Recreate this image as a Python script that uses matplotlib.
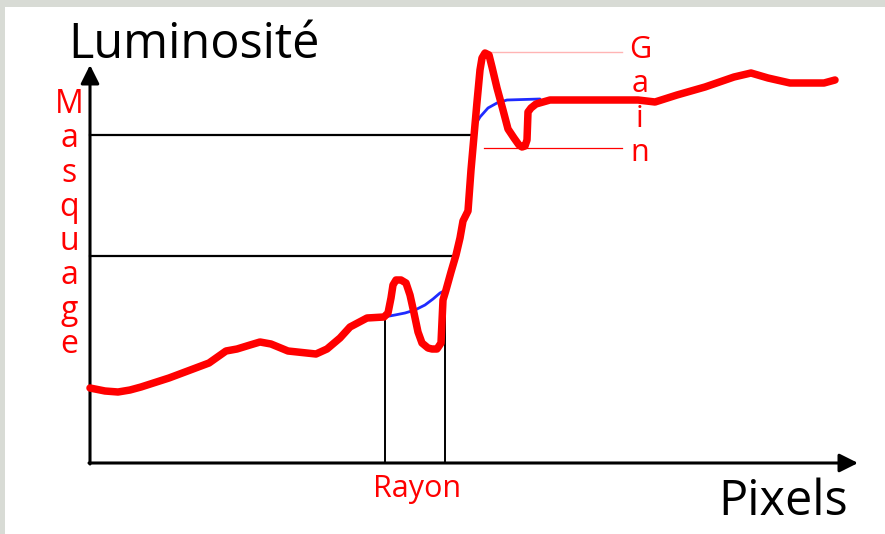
import numpy as np
import matplotlib
matplotlib.use("Agg")
import matplotlib.pyplot as plt
from matplotlib.patches import Rectangle

# Profile drawn in "pixel" units measured from the axes origin
RED_X = [0, 15, 28, 40, 51, 79, 119, 136, 147, 160, 170, 181, 198, 226, 237, 250, 260, 277,
         294, 298, 301, 303, 306, 311, 316, 320, 324, 328, 332, 338, 342, 347, 351, 353, 356,
         361, 366, 370, 373, 378, 381, 384, 387, 390, 392, 395, 399, 402, 407, 413, 418, 424,
         429, 432, 435, 437, 438, 441, 446, 460, 548, 565, 587, 615, 644, 661, 678, 700, 734, 745]
RED_Y = [75, 72, 71, 73, 76, 85, 100, 112, 114, 118, 121, 119, 112, 109, 114, 125, 136, 145,
         146, 150, 165, 178, 183, 183, 180, 168, 150, 131, 120, 115, 114, 114, 120, 163, 173,
         191, 208, 225, 242, 252, 293, 327, 361, 393, 405, 410, 408, 396, 375, 353, 334, 325,
         318, 316, 317, 323, 351, 355, 359, 363, 363, 361, 368, 376, 386, 390, 385, 380, 380, 383]

BLUE_LOW_X = [294, 305, 315, 325, 335, 343, 350, 354]
BLUE_LOW_Y = [146, 148, 150, 153, 158, 164, 170, 172]
BLUE_HIGH_X = [384, 390, 398, 407, 417, 450]
BLUE_HIGH_Y = [336, 346, 355, 360, 363, 364]

MASK_LEVELS = [328, 207]          # horizontal black guides
MASK_ENDS = [382, 362]
RAY_X = [295, 355]                # vertical "Rayon" guides
RAY_TOP = [146, 171]
GAIN_LEVELS = [411, 315]          # thin red guides

MASQUAGE = list("Masquage")
GAIN = list("Gain")

RED = "#ff0000"
FONT = ["Open Sans", "DejaVu Sans"]

fig = plt.figure(figsize=(8.85, 5.34), dpi=100, facecolor="#d8dbd5")
ax = fig.add_axes([0, 0, 1, 1])
ax.set_xlim(-90, 795)
ax.set_ylim(-71, 463)
ax.axis("off")

# white page inside the grey frame
ax.add_patch(Rectangle((-85, -71), 880, 527, facecolor="white", edgecolor="none", zorder=0))

# axes with arrows
ax.annotate("", xy=(0, 398), xytext=(0, -1),
            arrowprops=dict(arrowstyle="-|>", lw=2.2, color="black", mutation_scale=28,
                            shrinkA=0, shrinkB=0), zorder=3)
ax.annotate("", xy=(768, 0), xytext=(-1, 0),
            arrowprops=dict(arrowstyle="-|>", lw=2.2, color="black", mutation_scale=28,
                            shrinkA=0, shrinkB=0), zorder=3)

for lvl, end in zip(MASK_LEVELS, MASK_ENDS):
    ax.plot([0, end], [lvl, lvl], color="black", lw=1.6, zorder=2)
for x, top in zip(RAY_X, RAY_TOP):
    ax.plot([x, x], [0, top], color="black", lw=1.4, zorder=2)

ax.plot([393, 532], [GAIN_LEVELS[0]] * 2, color="#ffb4b4", lw=1.0, zorder=2)
ax.plot([394, 532], [GAIN_LEVELS[1]] * 2, color=RED, lw=0.9, zorder=2)

ax.plot(BLUE_LOW_X, BLUE_LOW_Y, color="#1f2bff", lw=2.0, zorder=4, solid_capstyle="round")
ax.plot(BLUE_HIGH_X, BLUE_HIGH_Y, color="#1f2bff", lw=2.0, zorder=4, solid_capstyle="round")
ax.plot(RED_X, RED_Y, color=RED, lw=5.4, zorder=5,
        solid_capstyle="round", solid_joinstyle="round")

# labels
ax.text(-22, 405, "Luminosité", fontsize=35, family=FONT, color="black",
        ha="left", va="baseline")
ax.text(628, -52, "Pixels", fontsize=35, family=FONT, color="black",
        ha="left", va="baseline")
ax.text(327, -34, "Rayon", fontsize=22, family=FONT, color=RED,
        ha="center", va="baseline")
for i, ch in enumerate(MASQUAGE):
    ax.text(-21, 350 - 34.3 * i, ch, fontsize=23, family=FONT, color=RED,
            ha="center", va="baseline")
for i, ch in enumerate(GAIN):
    ax.text(550, 405 - 34.3 * i, ch, fontsize=22, family=FONT, color=RED,
            ha="center", va="baseline")

fig.savefig("out.png", dpi=100, facecolor=fig.get_facecolor())
